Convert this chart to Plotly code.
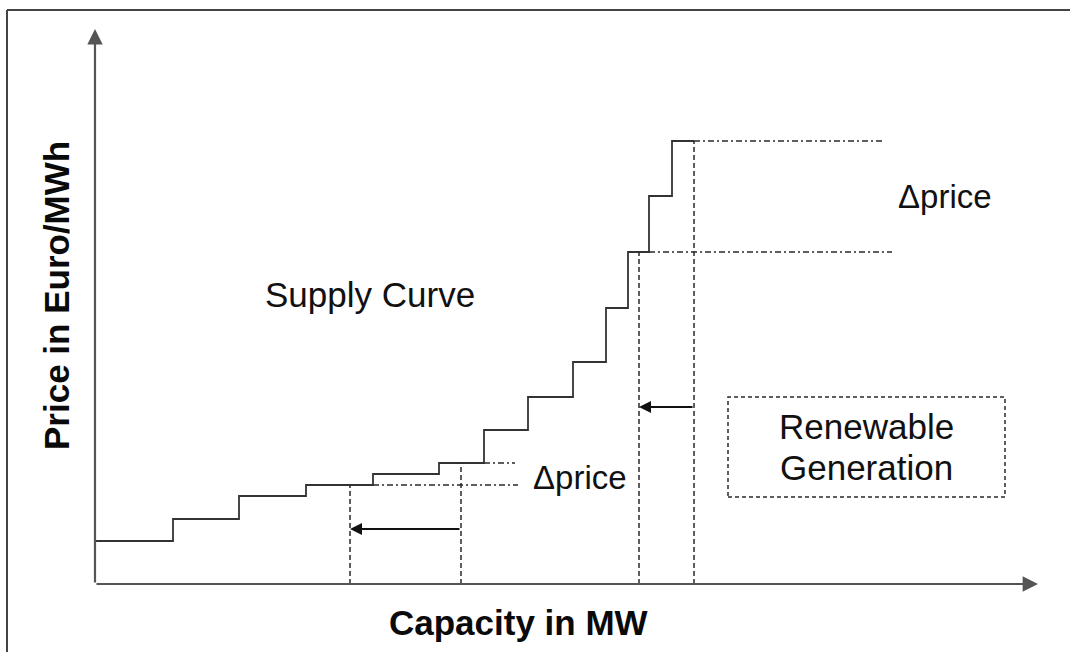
import plotly.graph_objects as go

# ---- data (capacity in arbitrary MW units, price in arbitrary Euro/MWh units) ----
step_capacity = [0, 78, 144, 211, 278, 344, 389, 433, 478, 511, 533, 554, 577, 599]
step_price = [43, 65, 88, 99, 110, 121, 154, 187, 222, 276, 332, 388, 443]

# demand positions: before / after renewable shift
demand_low_before, demand_low_after = 366, 255
demand_high_before, demand_high_after = 599, 544
price_low_before, price_low_after = 121, 99
price_high_before, price_high_after = 443, 332

# extents of the dash-dot price guides
guide_low_after = (278, 423)
guide_low_before = (389, 420)
guide_high_after = (554, 797)
guide_high_before = (599, 788)

# arrow heights
arrow_low_price, arrow_high_price = 55, 177

# renewable generation box
box_capacity = (633, 910)
box_price = (87, 187)

# axis arrow extents
x_axis_end, y_axis_end = 943, 555

FONT = "Liberation Sans, Arial, sans-serif"
INK = "#111111"
AXIS = "#555555"
LINE = "#2a2a2a"

fig = go.Figure()

# supply curve
fig.add_trace(go.Scatter(
    x=step_capacity, y=step_price + [step_price[-1]],
    mode="lines", line=dict(shape="hv", color="#333333", width=1.8),
    hoverinfo="skip", showlegend=False))

# dashed demand verticals
for cx, py in [(demand_low_after, price_low_after), (demand_low_before, price_low_before),
               (demand_high_after, price_high_after), (demand_high_before, price_high_before)]:
    fig.add_trace(go.Scatter(x=[cx, cx], y=[0, py], mode="lines",
                             line=dict(color=LINE, width=1.5, dash="5px,3px"),
                             hoverinfo="skip", showlegend=False))

# dash-dot price guides
for (x0, x1), py in [(guide_low_after, price_low_after), (guide_low_before, price_low_before),
                     (guide_high_after, price_high_after), (guide_high_before, price_high_before)]:
    fig.add_trace(go.Scatter(x=[x0, x1], y=[py, py], mode="lines",
                             line=dict(color=LINE, width=1.3, dash="6px,3px,2px,3px"),
                             hoverinfo="skip", showlegend=False))

# renewable generation dashed box
fig.add_trace(go.Scatter(
    x=[box_capacity[0], box_capacity[1], box_capacity[1], box_capacity[0], box_capacity[0]],
    y=[box_price[0], box_price[0], box_price[1], box_price[1], box_price[0]],
    mode="lines", line=dict(color=LINE, width=1.5, dash="4px,3px"),
    hoverinfo="skip", showlegend=False))

ann = []
# axis arrows
ann.append(dict(x=x_axis_end, y=0, ax=0, ay=0, xref="x", yref="y", axref="x", ayref="y",
                text="", showarrow=True, arrowhead=2, arrowsize=1.4, arrowwidth=2.2,
                arrowcolor=AXIS, standoff=0))
ann.append(dict(x=0, y=y_axis_end, ax=0, ay=0, xref="x", yref="y", axref="x", ayref="y",
                text="", showarrow=True, arrowhead=2, arrowsize=1.4, arrowwidth=2.2,
                arrowcolor=AXIS, standoff=0))
# shift arrows
ann.append(dict(x=demand_low_after, y=arrow_low_price, ax=demand_low_before, ay=arrow_low_price,
                xref="x", yref="y", axref="x", ayref="y", text="", showarrow=True,
                arrowhead=2, arrowsize=1.2, arrowwidth=2, arrowcolor="#111111", standoff=0))
ann.append(dict(x=demand_high_after, y=arrow_high_price, ax=demand_high_before, ay=arrow_high_price,
                xref="x", yref="y", axref="x", ayref="y", text="", showarrow=True,
                arrowhead=2, arrowsize=1.2, arrowwidth=2, arrowcolor="#111111", standoff=0))

# labels
def label(text, x, y, size=35):
    return dict(x=x, y=y, xref="x", yref="y", text=text, showarrow=False,
                font=dict(family=FONT, size=size, color=INK),
                xanchor="center", yanchor="middle")

ann.append(label("Supply Curve", 275, 290))
ann.append(label("Δprice", 485, 107, 33))
ann.append(label("Δprice", 850, 388, 33))
ann.append(label("Renewable", 771, 158))
ann.append(label("Generation", 771, 117))

# axis titles
ann.append(dict(x=518 / 1070, y=1 - 622 / 652, xref="paper", yref="paper",
                text="<b>Capacity in MW</b>", showarrow=False,
                font=dict(family=FONT, size=35, color="#0a0a0a"),
                xanchor="center", yanchor="middle"))
ann.append(dict(x=56 / 1070, y=1 - 296 / 652, xref="paper", yref="paper",
                text="<b>Price in Euro/MWh</b>", showarrow=False, textangle=-90,
                font=dict(family=FONT, size=35, color="#0a0a0a"),
                xanchor="center", yanchor="middle"))

shapes = [
    dict(type="line", xref="paper", yref="paper", x0=7 / 1070, x1=1, y0=1 - 10 / 652, y1=1 - 10 / 652,
         line=dict(color="#444444", width=2)),
    dict(type="line", xref="paper", yref="paper", x0=7 / 1070, x1=7 / 1070, y0=0, y1=1 - 10 / 652,
         line=dict(color="#444444", width=2)),
]

fig.update_layout(
    width=1070, height=652, margin=dict(l=0, r=0, t=0, b=0, pad=0),
    paper_bgcolor="white", plot_bgcolor="white",
    xaxis=dict(range=[-95, 975], visible=False, fixedrange=True),
    yaxis=dict(range=[-68, 584], visible=False, fixedrange=True),
    annotations=ann, shapes=shapes, showlegend=False,
)

fig.write_html("out.html", config={"displayModeBar": False},
               post_script="document.body.style.margin='0';document.body.style.overflow='hidden';")
